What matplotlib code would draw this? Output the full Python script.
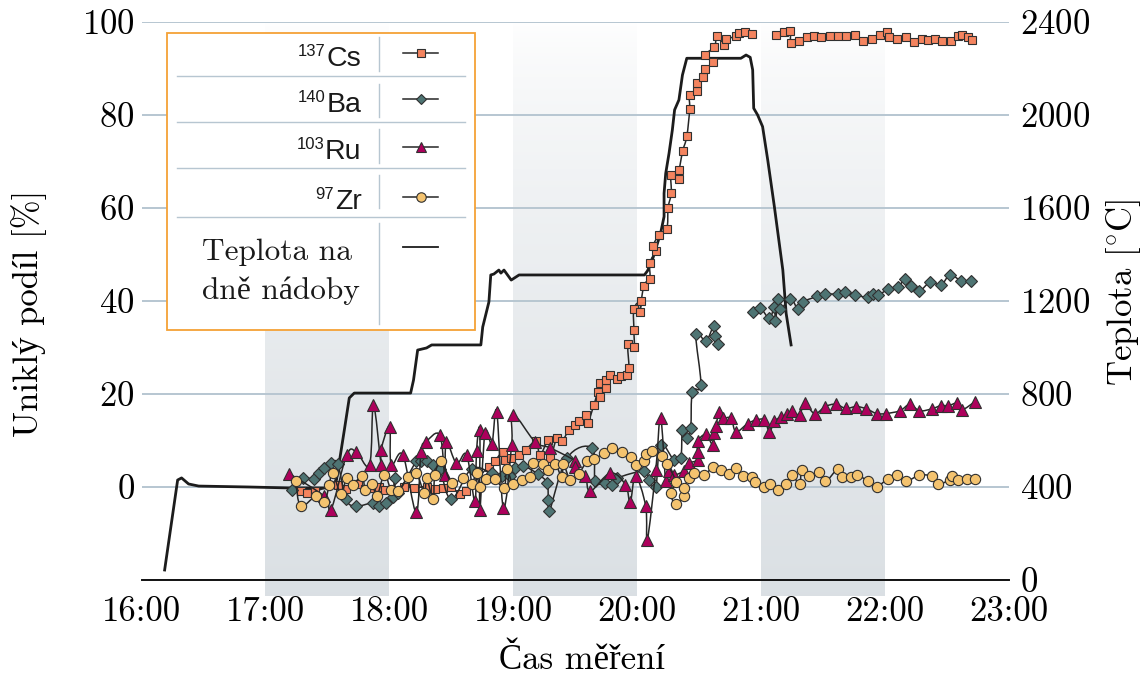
import numpy as np
import matplotlib
matplotlib.use("Agg")
import matplotlib.pyplot as plt
from matplotlib.path import Path
from matplotlib.patches import PathPatch, Rectangle
from matplotlib.lines import Line2D
from matplotlib.ticker import FixedLocator, FuncFormatter

nan = float("nan")

# ---------------- data (time in minutes after 16:00) ----------------
cs_min = [77, 80, 84, 95, 99, 105, 108, 112, 115, 118, 127, 132, 138, 142, 146, 150, 154, 157,
          168, 171, 175, 176, 179, 183, 186, 191, 193, 197, 198, 201, 203.5, 207, 210, 212, 215, 216,
          219, 221, 222, 222, 225, 225, 227, 230, 232, 235, 236, 235.5, 238.4, 238.4, 238.4, 241.6,
          241.3, 243.2, 246.1, 246.1, 249, 247.8, 250.5, 254.3, 255, 256.5, 256.5, 260.4, 260.4, 262,
          264, 265.4, 265.4, 269, 269, 271.8, 272.7, 276.6, 272.7, 277.4, 278.5, 282, 283, 287.8,
          289.4, 292.2, 295.4, nan, 307.2, 311, 314, 314.5, 318.3, 322, 325.6, 329, 333.2, 337,
          341.3, 345.3, 349.4, 353.8, 357.5, 361, 362, 365.6, 370, 374.2, 377.7, 381, 384.2, 387.8,
          391.8, 395.2, 397.2, 400, 402]
cs_val = [-0.9, -1.3, -0.9, 0.5, -0.4, 0.6, -0.4, -0.2, 0.0, -0.6, 0.1, -0.2, 0.1, -0.4, -0.2, 0.0, -1.5, -0.9,
          4.4, 5.6, 7.6, 5.8, 6.2, 6.9, 8.0, 9.8, 6.9, 10.1, 6.2, 10.5, 9.8, 12.3, 13.3, 14.1, 15.5, 13.7,
          17.6, 20.5, 19.4, 22.3, 21.2, 23.0, 24.0, 23.3, 23.9, 24.0, 25.6, 30.8, 30.1, 33.7, 38.3, 39.9,
          37.6, 43.3, 44.8, 48.2, 50.8, 51.9, 54.2, 55.5, 60.1, 63.2, 67.0, 66.2, 68.2, 72.2,
          75.4, 81.2, 84.2, 85.1, 86.9, 88.1, 89.9, 91.3, 92.8, 94.7, 96.9, 95.1, 96.3, 96.9,
          97.6, 97.9, 97.4, nan, 97.2, 97.8, 98.1, 95.4, 96.0, 96.7, 97.0, 96.7, 96.9, 96.9,
          97.0, 97.1, 96.0, 96.3, 97.1, 97.9, 96.7, 96.4, 96.7, 95.8, 96.4, 96.1, 96.4, 96.0,
          96.0, 96.9, 97.1, 96.7, 96.1]

ba_min = [73, 78, 83.6, 86, 88.5, 91.7, 95, 99, 103.9, 112, 115.2, 118.5, 121.7, 122.5, 124, 133, 135.5,
          138, 141, 144.4, 150, 159.8, 169.5, 174.4, 178.4, 180.8, 184.9, 192.2, 196.3, 197, 197.5, 206,
          218.1, 219.7, 224.6, 227.9, 230.3, 243.2, 245.7, 249, 251.3, 257.8, 261.1, 261.9, 264.3, 265.9,
          266.7, 270.8, 268.4, 273.2, 277, 277.6, 278.9, nan, 295.9, 299.5, 304, 306.4, 306.9, 308.4,
          309.3, 314.2, 317.8, 320.2, 327.2, 330.7, 337.2, 340.8, 345.3, 351.8, 354.2, 356.7, 361.5,
          366.4, 369.6, 372.5, 376.6, 381.8, 387.1, 391.5, 396.7, 401.7]
ba_val = [-0.6, 1.9, 1.7, 3.0, 4.1, 5.1, 5.0, -2.6, -4.1, -3.4, -4.0, -3.4, -2.1, 1.9, -1.3, 5.5, 5.5,
          5.5, 4.8, 3.9, -2.6, 3.9, 3.0, 2.4, 2.3, 4.0, 4.5, 2.7, 0.8, -2.9, -5.2, 6.2,
          8.4, 1.2, 0.9, 0.4, 1.9, 3.4, 1.6, 0.1, 9.1, 5.8, 6.2, 12.3, 10.5, 12.7,
          20.5, 21.9, 33.0, 31.4, 34.6, 32.5, 30.8, nan, 37.6, 38.5, 36.3, 38.7, 35.8, 40.5,
          38.2, 40.5, 38.3, 39.8, 41.0, 41.5, 41.5, 42.0, 41.3, 40.8, 41.5, 41.3, 42.5,
          43.0, 44.8, 43.3, 42.2, 44.0, 43.5, 45.6, 44.4, 44.4]

ru_min = [71.5, 88.5, 91.7, 99.3, 103.9, 110.4, 112.3, 116, 116, 120.1, 120.9, 126.5, 133, 135.3, 137.8,
          144.4, 146.8, 147.6, 152.5, 157.4, 161.4, 162.2, 163.8, 163.8, 166.3, 169.6, 172, 175.2, 179.2,
          180, 190.6, 197.9, 210, 210, 214.9, 217.3, 227, 234.3, 236.6, 239.2, 244.1, 244.9, 249, 251.3,
          253.8, 255.4, 257.8, 262.7, 265.1, 269.2, 269.2, 269.2, 273.2, 276.5, 277.3, 278.1, 279.7,
          281.3, 285.4, 287.8, 293.4, 297.5, 301.6, 304, 306.4, 309.7, 312.6, 314.9, 318.6, 321, 325.9,
          331.1, 336.1, 341, 346.1, 351, 355.9, 360.4, 367.2, 372.1, 376.6, 382.6, 387, 390.7, 394.8,
          397.2, 403.3]
ru_val = [2.9, -2.0, -4.9, 6.8, 7.6, 4.8, 17.6, 4.8, 8.0, 13.0, 4.8, 6.9, -5.4, 7.5, 9.7,
          11.2, 2.6, 9.7, 5.1, 6.9, -3.1, 7.7, 12.3, -4.9, 11.6, 9.3, 16.2, -4.5, 9.1,
          15.5, 9.7, 8.4, 5.6, 4.4, 2.3, -0.9, 3.0, 0.5, -3.3, 2.3, -4.1, -11.3, 3.7, 14.9,
          1.3, 3.5, 2.6, 3.5, 5.1, 5.8, 7.6, 9.8, 11.3, 9.1, 11.6, 13.1, 16.2,
          14.8, 14.8, 11.9, 13.6, 14.4, 14.4, 11.9, 14.1, 15.1, 15.6, 16.4, 15.5, 18.0, 15.8,
          17.3, 17.8, 16.9, 17.3, 16.8, 15.8, 15.8, 16.4, 17.8, 16.4, 16.8, 17.5, 17.5, 18.0,
          16.6, 18.3]

zr_min = [74.7, 77.1, 84.4, 88.5, 90.9, 92.5, 96.6, 99.3, 102.2, 106.8, 108.4, 111.7, 113.9, 117.6, 120.9,
          124.1, 129, 133, 137, 138, 141.2, 142, 145.2, 150.1, 155.7, 159.8, 162.2, 163.8, 167, 171,
          175.6, 176.8, 180, 184, 188.1, 189.7, 194.6, 197, 200.3, 203.5, 204.3, 207.6, 211.6, 215.7,
          219.3, 224.1, 227.8, 232.7, 236.8, 239.2, 243.2, 244.3, 247.3, 252.1, 254.6, 258.6, 256.2,
          258.6, 262.7, 262.7, 265.1, 267.5, 272.4, 276.5, 280.5, 284.6, 287.8, 291, 295.4, 297.2,
          301.6, 304.5, 308, 312.1, 314.9, 318.6, 319.7, 323.4, 328, 331.1, 337.2, 339.2, 343.4,
          346.6, 351.8, 355.9, 361.5, 366, 369.9, 376.6, 382.6, 385.5, 391.5, 392.6, 395.5, 399.6, 403.3]
zr_val = [1.2, -4.1, -2.0, -3.3, 0.5, 3.0, -1.4, 1.9, 0.5, 2.4, -0.6, 0.7, -2.0, 2.6, -0.7,
          -0.9, 2.1, 3.0, -1.3, 1.9, -2.6, 2.6, 5.5, 0.9, 1.9, 0.7, 3.0, 0.0, 1.7, 1.7,
          -0.2, 3.8, 0.6, 1.6, 2.1, 5.1, 4.9, 3.7, 4.9, 2.1, 4.9, 1.6, 2.8, 5.5,
          6.1, 7.3, 8.4, 7.6, 6.4, 4.8, 5.5, 7.1, 7.8, 6.6, 4.9, 1.1, -1.3,
          -3.6, -2.0, -0.2, 1.9, 3.0, 2.5, 4.2, 3.7, 2.8, 4.1, 2.3, 2.1, 1.1,
          0.1, 0.6, -0.6, 0.6, 2.6, 0.6, 3.7, 2.3, 3.2, 1.2, 3.9, 2.1, 2.1,
          2.6, 1.2, 0.1, 1.8, 2.5, 1.2, 2.5, 2.3, 0.6, 1.6, 2.3, 1.6, 1.7, 1.7]

temp_min = [11.2, 17.5, 19.4, 22.8, 27.7, 52, 71.4, 91, 94.4, 98.2, 100.6, 103, 125, 130.3, 131.7, 133.7,
            138, 140.5, 164.3, 165.2, 168.2, 169.1, 170.6, 173, 174, 175.5, 179, 182.8, 243.5, 245,
            247.3, 251.3, 253, 253, 253.8, 255.4, 257, 258.1, 260.2, 261.9, 264, 270.8, 290.2, 292.7,
            294.7, 295.9, 296.4, 298.3, 300.7, 303.2, 306.4, 310.5, 312.1, 314.5]
temp_val = [43, 430, 439, 413, 404, 400, 396, 396, 430, 645, 783, 804, 804, 804, 860, 989,
            998, 1011, 1011, 1088, 1196, 1312, 1316, 1333, 1320, 1333, 1290, 1312, 1312, 1330,
            1376, 1491, 1563, 1663, 1749, 1835, 1935, 2022, 2065, 2172, 2244, 2244, 2244, 2258,
            2248, 2194, 2029, 2000, 1950, 1806, 1606, 1333, 1147, 1011]

band_start_min = [60, 180, 300]
band_len_min = 60
x_ticks = [0, 60, 120, 180, 240, 300, 360, 420]
left_ticks = [0, 20, 40, 60, 80, 100]
right_ticks = [0, 400, 800, 1200, 1600, 2000, 2400]

labels_iso = ["Cs", "Ba", "Ru", "Zr"]
labels_mass = ["137", "140", "103", "97"]
temp_label = ["Teplota na", "dně nádoby"]

# ---------------- style ----------------
SERIF = ["cmr10", "Liberation Serif", "DejaVu Serif"]
plt.rcParams["font.family"] = SERIF
plt.rcParams["mathtext.fontset"] = "cm"
plt.rcParams["axes.formatter.use_mathtext"] = True
plt.rcParams["axes.unicode_minus"] = False
FS = 25
W, H = 1144, 680
AXL, AXR, AXT, AXB = 141.5, 1009, 22, 580

C_CS, C_BA, C_RU, C_ZR = "#f4845f", "#4e7473", "#ad005c", "#f4c36f"
EDGE = "#303030"
LINE = "#262626"
GRID = "#b7c6d1"

fig = plt.figure(figsize=(W / 100, H / 100), dpi=100)
ax = fig.add_axes([AXL / W, (H - AXB) / H, (AXR - AXL) / W, (AXB - AXT) / H])
ax2 = ax.twinx()
ax.set_zorder(2)
ax2.set_zorder(1)
ax.patch.set_visible(False)
ax2.patch.set_visible(False)

# shaded bands with vertical gradient (on the rear axis)
n = 256
fr = np.linspace(0, 1, n)[:, None]
top = np.array([1.0, 1.0, 1.0])
bot = np.array([0.858, 0.878, 0.894])
grad = (top * (1 - fr ** 0.7) + bot * fr ** 0.7)[:, None, :]
for s in band_start_min:
    im = ax2.imshow(grad, extent=[s, s + band_len_min, -70, 2400], aspect="auto",
                    zorder=0, interpolation="bilinear", origin="upper")
    im.set_clip_on(False)

# temperature line
ax2.plot(temp_min, temp_val, color="#1c1c1c", lw=2.0, zorder=3, solid_joinstyle="round")

ax2.set_xlim(0, 420)
ax2.set_ylim(0, 2400)
ax2.yaxis.set_major_locator(FixedLocator(right_ticks))
ax2.grid(axis="y", color=GRID, lw=1.4)
ax2.grid(axis="x", visible=False)
for sp in ax2.spines.values():
    sp.set_visible(False)
ax2.tick_params(axis="y", length=0, pad=8, labelsize=FS)
ax2.set_ylabel("Teplota [$^{\\circ}$C]", fontsize=FS)
ax2.yaxis.set_label_coords((1104 - AXL) / (AXR - AXL), (AXB - 292) / (AXB - AXT))


def smooth_path(xs, ys, k=0.18):
    xs = np.asarray(xs, float)
    ys = np.asarray(ys, float)
    verts, codes = [], []
    good = ~(np.isnan(xs) | np.isnan(ys))
    idx = np.where(good)[0]
    segs = np.split(idx, np.where(np.diff(idx) != 1)[0] + 1)
    for sg in segs:
        P_ = np.column_stack([xs[sg], ys[sg]])
        m = len(P_)
        if m < 2:
            continue
        verts.append(P_[0]); codes.append(Path.MOVETO)
        for i in range(m - 1):
            p0 = P_[i - 1] if i > 0 else P_[i]
            p3 = P_[i + 2] if i + 2 < m else P_[i + 1]
            c1 = P_[i] + (P_[i + 1] - p0) * k
            c2 = P_[i + 1] - (p3 - P_[i]) * k
            verts += [c1, c2, P_[i + 1]]
            codes += [Path.CURVE4] * 3
    return Path(verts, codes)


series = [
    (cs_min, cs_val, "s", C_CS, 6.3),
    (ba_min, ba_val, "D", C_BA, 6.0),
    (ru_min, ru_val, "^", C_RU, 8.2),
    (zr_min, zr_val, "o", C_ZR, 7.4),
]
z = 3
for xs, ys, mk, col, ms in series:
    ax.add_patch(PathPatch(smooth_path(xs, ys), fill=False, edgecolor=LINE, lw=1.1, zorder=z))
    ax.plot(xs, ys, ls="none", marker=mk, ms=ms, mfc=col, mec=EDGE, mew=0.8, zorder=z + 0.5,
            clip_on=False)
    z += 1

ax.set_xlim(0, 420)
ax.set_ylim(-20, 100)
ax.xaxis.set_major_locator(FixedLocator(x_ticks))
ax.xaxis.set_major_formatter(FuncFormatter(lambda v, p: f"{16 + int(round(v)) // 60}:00"))
ax.yaxis.set_major_locator(FixedLocator(left_ticks))
ax.tick_params(axis="both", length=0, labelsize=FS)
ax.tick_params(axis="x", pad=12)
ax.tick_params(axis="y", pad=5)
for k_, sp in ax.spines.items():
    sp.set_visible(k_ == "bottom")
ax.spines["bottom"].set_color("#111111")
ax.spines["bottom"].set_linewidth(1.4)
ax.set_xlabel("Čas měření", fontsize=FS)
ax.set_ylabel("Uniklý podíl [%]", fontsize=FS)
ax.xaxis.set_label_coords((582 - AXL) / (AXR - AXL), (AXB - 644) / (AXB - AXT))
ax.yaxis.set_label_coords((47 - AXL) / (AXR - AXL), (AXB - 313) / (AXB - AXT))


# ---------------- legend (table-like box) ----------------
def P(x, y):
    return ((x - AXL) / (AXR - AXL), (AXB - y) / (AXB - AXT))


LZ = 20
bx0, by0 = P(166.5, 330)
bx1, by1 = P(474.5, 32.5)
ax.add_patch(Rectangle((bx0, by0), bx1 - bx0, by1 - by0, transform=ax.transAxes, facecolor="white",
                       edgecolor="#f5a136", lw=1.3, zorder=LZ, clip_on=False))
for yy in [76, 121.7, 167.7, 217.3]:
    a, b = P(177, yy), P(465, yy)
    ax.add_line(Line2D([a[0], b[0]], [a[1], b[1]], transform=ax.transAxes, color=GRID, lw=1.0,
                       zorder=LZ + 1, clip_on=False))
for y0_, y1_ in [(37.3, 70.7), (84, 116.7), (129.3, 162.7), (175, 208.3), (223.3, 324)]:
    a, b = P(379.3, y0_), P(379.3, y1_)
    ax.add_line(Line2D([a[0], b[0]], [a[1], b[1]], transform=ax.transAxes, color=GRID, lw=1.0,
                       zorder=LZ + 1, clip_on=False))

row_c = [53.3, 99, 146.7, 196.7]
mk_styles = [(m_, c_, s_) for (_, _, m_, c_, s_) in series]
name_texts = []
for rc, nm, (mk, col, ms) in zip(row_c, labels_iso, mk_styles):
    tx, ty = P(361.5, rc + 12.5)
    t = ax.text(tx, ty, nm, transform=ax.transAxes, ha="right", va="baseline",
                family=["Liberation Sans", "DejaVu Sans"], fontsize=20.5, color="#1a1a1a",
                zorder=LZ + 2)
    name_texts.append((t, rc))
    a, b = P(402.7, rc), P(438.3, rc)
    ax.add_line(Line2D([a[0], b[0]], [a[1], b[1]], transform=ax.transAxes, color=LINE, lw=1.1,
                       zorder=LZ + 2, clip_on=False))
    c = P(420.5, rc)
    ax.add_line(Line2D([c[0]], [c[1]], transform=ax.transAxes, ls="none", marker=mk, ms=ms * 0.92,
                       mfc=col, mec=EDGE, mew=0.8, zorder=LZ + 3, clip_on=False))

a, b = P(402.7, 246.7), P(438.3, 246.7)
ax.add_line(Line2D([a[0], b[0]], [a[1], b[1]], transform=ax.transAxes, color="#1c1c1c", lw=1.3,
                   zorder=LZ + 2, clip_on=False))
for txt, yb in zip(temp_label, [260, 299.3]):
    tx, ty = P(201.7, yb)
    ax.text(tx, ty, txt, transform=ax.transAxes, ha="left", va="baseline", fontsize=22.6,
            color="#1a1a1a", zorder=LZ + 2)

fig.canvas.draw()
renderer = fig.canvas.get_renderer()
for (t, rc), ms_ in zip(name_texts, labels_mass):
    bb = t.get_window_extent(renderer)
    xd = bb.x0 - 1
    yd = H - (rc + 2.7)
    fig.text(xd / W, yd / H, ms_, ha="right", va="baseline",
             family=["Liberation Sans", "DejaVu Sans"], fontsize=12, color="#1a1a1a", zorder=30)

fig.savefig("out.png", dpi=100, facecolor="white")
